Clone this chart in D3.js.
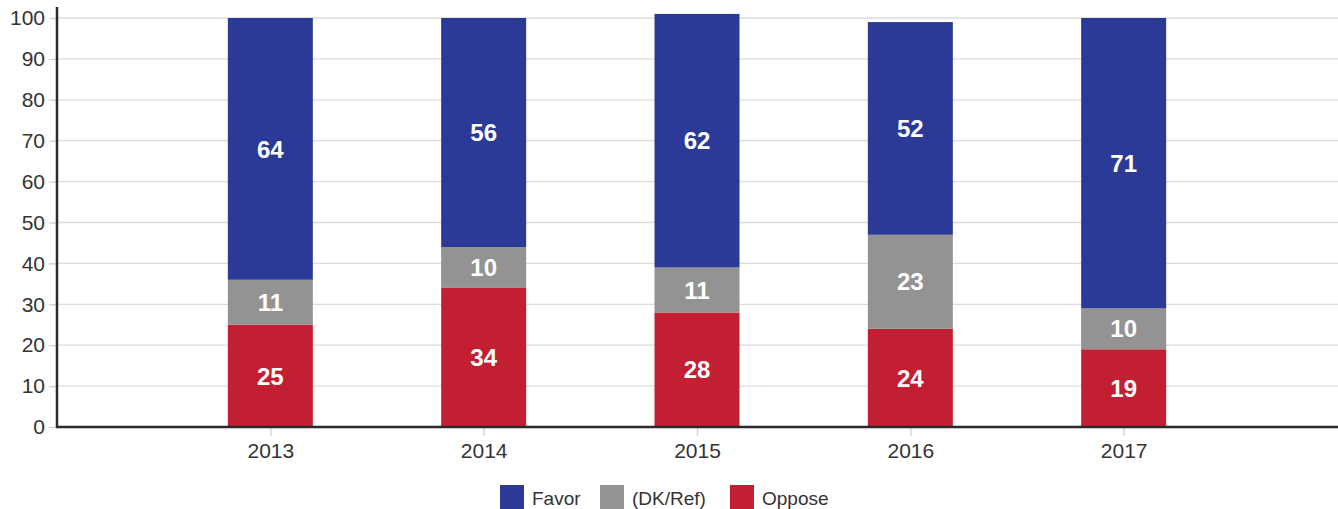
<!DOCTYPE html>
<html><head><meta charset="utf-8">
<script src="https://cdn.jsdelivr.net/npm/d3@7"></script>
<style>body{margin:0;background:#fff}svg{display:block}text{font-family:"Liberation Sans",Arial,sans-serif}</style>
</head><body>
<svg id="c" width="1338" height="509"></svg>
<script>
const years = ["2013","2014","2015","2016","2017"];
const oppose = [25,34,28,24,19];
const dkref = [11,10,11,23,10];
const favor = [64,56,62,52,71];
const seriesNames = ["Oppose","(DK/Ref)","Favor"];
const seriesColors = ["#C22032","#939393","#2B3A97"];
const yTicks = [0,10,20,30,40,50,60,70,80,90,100];
const legendOrder = ["Favor","(DK/Ref)","Oppose"];

const svg = d3.select("#c");
const x0 = 57, x1 = 1337, yTop = 18, yBot = 427;
const x = d3.scalePoint().domain(years).range([x0, x1]).padding(1);
const y = d3.scaleLinear().domain([0,100]).range([yBot, yTop]);
const bw = 85;

// grid
svg.append("g").selectAll("line").data(yTicks.filter(d=>d>0)).join("line")
  .attr("x1", x0).attr("x2", x1+1).attr("y1", d=>y(d)).attr("y2", d=>y(d))
  .attr("stroke","#dcdcdc").attr("stroke-width",1.3);

// y axis
const ya = svg.append("g").attr("transform",`translate(${x0},0)`)
  .call(d3.axisLeft(y).tickValues(yTicks).tickSize(8).tickPadding(4));
ya.select(".domain").remove();
ya.selectAll(".tick line").attr("stroke","#cfcfcf").attr("stroke-width",1.3);
ya.selectAll(".tick text").attr("font-size",21).attr("fill","#333");

// x axis
const xa = svg.append("g").attr("transform",`translate(0,${yBot})`)
  .call(d3.axisBottom(x).tickSize(9).tickPadding(7));
xa.select(".domain").remove();
xa.selectAll(".tick line").attr("stroke","#cfcfcf").attr("stroke-width",1.3);
xa.selectAll(".tick text").attr("font-size",21).attr("fill","#333");

// stacks
const rows = years.map((yr,i)=>({year:yr,"Oppose":oppose[i],"(DK/Ref)":dkref[i],"Favor":favor[i]}));
const stack = d3.stack().keys(seriesNames)(rows);
const g = svg.append("g");
stack.forEach((s,si)=>{
  const gg = g.append("g");
  gg.selectAll("rect").data(s).join("rect")
    .attr("x", d=>x(d.data.year)-bw/2).attr("width", bw)
    .attr("y", d=>y(d[1])).attr("height", d=>y(d[0])-y(d[1]))
    .attr("fill", seriesColors[si]);
  gg.selectAll("text").data(s).join("text")
    .attr("x", d=>x(d.data.year)).attr("y", d=>(y(d[0])+y(d[1]))/2)
    .attr("dy","0.36em").attr("text-anchor","middle")
    .attr("font-size",24).attr("font-weight","bold").attr("fill","#fff")
    .text(d=>d[1]-d[0]);
});

// axis lines
svg.append("line").attr("x1",x0).attr("x2",x0).attr("y1",7).attr("y2",yBot+1)
  .attr("stroke","#2a2a2a").attr("stroke-width",2.5);
svg.append("line").attr("x1",x0-1).attr("x2",1338).attr("y1",yBot).attr("y2",yBot)
  .attr("stroke","#2a2a2a").attr("stroke-width",2.5);

// legend
const lx = [500,600,730];
const lg = svg.append("g");
legendOrder.forEach((n,i)=>{
  const ci = seriesNames.indexOf(n);
  lg.append("rect").attr("x",lx[i]).attr("y",485).attr("width",24).attr("height",24).attr("fill",seriesColors[ci]);
  lg.append("text").attr("x",lx[i]+32).attr("y",505)
    .attr("font-size",19).attr("fill","#333").text(n);
});
</script>
</body></html>
